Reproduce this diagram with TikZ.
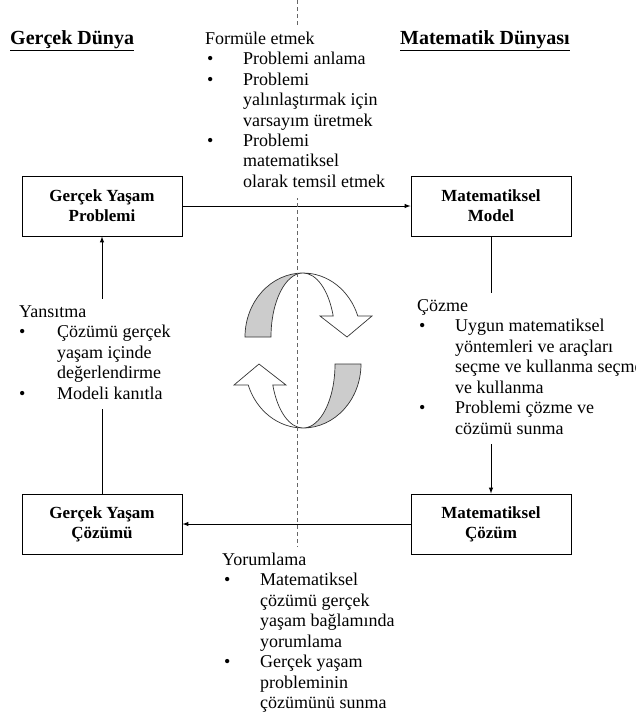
\documentclass[tikz,border=0pt]{standalone}
\usepackage{fontspec}
\setmainfont{Liberation Serif}

\begin{document}
\begin{tikzpicture}[x=1pt, y=-1pt,
    kutu/.style = {draw, line width=1pt, minimum width=160pt, minimum height=60pt, align=center, inner sep=0pt, font=\fontsize{17}{20}\selectfont\bfseries},
    dunya/.style = {anchor=base west, inner sep=0pt, font=\fontsize{20}{24}\selectfont\bfseries},
    liste/.style = {anchor=base west, fill=white, inner xsep=0pt, inner ysep=4pt, font=\fontsize{18}{20.5}\selectfont},
    ok/.style = {draw, line width=1pt, -latex},
    donus/.style = {draw=black!80, line width=0.7pt},
    ayrac/.style = {draw=black!60, line width=1pt, dash pattern=on 4pt off 3pt}]
    \useasboundingbox (0,0) rectangle (635,712);
    \node [dunya] (gercek) at (10,44) {\underline{Gerçek Dünya}};
    \node [dunya] (matematik) at (400,44) {\underline{Matematik Dünyası}};
    \node [kutu] (problem) at (102,206) {Gerçek Yaşam\\Problemi};
    \node [kutu] (model) at (491,206) {Matematiksel\\Model};
    \node [kutu] (gcozum) at (102,524) {Gerçek Yaşam\\Çözümü};
    \node [kutu] (mcozum) at (491,524) {Matematiksel\\Çözüm};
    \draw [ok] (problem) -- (model);
    \draw [ok] (model) -- (mcozum);
    \draw [ok] (mcozum) -- (gcozum);
    \draw [ok] (gcozum) -- (problem);
    \filldraw [donus, fill=black!20] (245,337) arc [start angle=180, end angle=270, x radius=58, y radius=64]
        arc [start angle=270, end angle=180, x radius=32, y radius=64] -- cycle;
    \draw [donus] (303,273) arc [start angle=270, end angle=340.85, x radius=58, y radius=64]
        -- (372,316) -- (347,337) -- (320,316) -- (333.2,316)
        arc [start angle=340.85, end angle=270, x radius=32, y radius=64];
    \filldraw [donus, fill=black!20] (361,364) arc [start angle=0, end angle=90, x radius=58, y radius=64]
        arc [start angle=90, end angle=0, x radius=32, y radius=64] -- cycle;
    \draw [donus] (303,428) arc [start angle=90, end angle=160.85, x radius=58, y radius=64]
        -- (234,385) -- (259,364) -- (286,385) -- (272.8,385)
        arc [start angle=160.85, end angle=90, x radius=32, y radius=64];
    \coordinate (ust) at (297,0);
    \coordinate (alt) at (297,712);
    \draw [ayrac] (ust) -- (alt);
    \node [liste] (formule) at (205,44) {\begin{tabular}[t]{@{\hspace{2pt}}p{36pt}@{}l@{}}
        \multicolumn{2}{@{}l@{}}{Formüle etmek}\\
        \textbullet & Problemi anlama\\
        \textbullet & Problemi\\
        & yalınlaştırmak için\\
        & varsayım üretmek\\
        \textbullet & Problemi\\
        & matematiksel\\
        & olarak temsil etmek
    \end{tabular}};
    \node [liste] (cozme) at (417,311) {\begin{tabular}[t]{@{\hspace{2pt}}p{36pt}@{}l@{}}
        \multicolumn{2}{@{}l@{}}{Çözme}\\
        \textbullet & Uygun matematiksel\\
        & yöntemleri ve araçları\\
        & seçme ve kullanma seçme\\
        & ve kullanma\\
        \textbullet & Problemi çözme ve\\
        & cözümü sunma
    \end{tabular}};
    \node [liste] (yansitma) at (19,317) {\begin{tabular}[t]{@{\hspace{0pt}}p{38pt}@{}l@{}}
        \multicolumn{2}{@{}l@{}}{Yansıtma}\\
        \textbullet & Çözümü gerçek\\
        & yaşam içinde\\
        & değerlendirme\\
        \textbullet & Modeli kanıtla
    \end{tabular}};
    \node [liste] (yorumlama) at (222,565) {\begin{tabular}[t]{@{\hspace{2pt}}p{36pt}@{}l@{}}
        \multicolumn{2}{@{}l@{}}{Yorumlama}\\
        \textbullet & Matematiksel\\
        & çözümü gerçek\\
        & yaşam bağlamında\\
        & yorumlama\\
        \textbullet & Gerçek yaşam\\
        & probleminin\\
        & çözümünü sunma
    \end{tabular}};
\end{tikzpicture}
\end{document}
